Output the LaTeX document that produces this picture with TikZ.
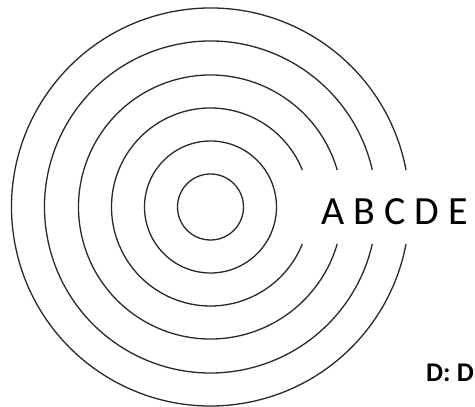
\documentclass[tikz,border=0pt]{standalone}
\usepackage{fontspec}
\setmainfont{Carlito}
\usepackage{tikz}
\usetikzlibrary{positioning}
\definecolor{ringgray}{RGB}{40, 40, 40}

\begin{document}
\begin{tikzpicture}[
  x=1pt, y=1pt,
  ring/.style={draw=ringgray, line width=1.3pt},
  letters/.style={inner sep=0pt, font=\fontsize{40}{40}\selectfont},
  legend/.style={inner sep=0pt, font=\fontsize{27}{27}\selectfont\bfseries}
]
  \useasboundingbox (0,0) rectangle (475,407);
  \coordinate (centre) at (210.5,200);

  \draw[ring] (centre) circle[radius=33];
  \draw[ring] (centre) circle[radius=66];

  \foreach \r in {99,132,166,199} {
    \pgfmathsetmacro{\gap}{asin(37/\r)}
    \draw[ring] ([shift={(\gap:\r)}]centre)
      arc[start angle=\gap, end angle=360-\gap, radius=\r];
  }

  \node[letters, anchor=base west] (labels) at (321,182) {A B C D E};

  \node[legend, anchor=base west] (key) at (426,25) {D: D};
\end{tikzpicture}
\end{document}
